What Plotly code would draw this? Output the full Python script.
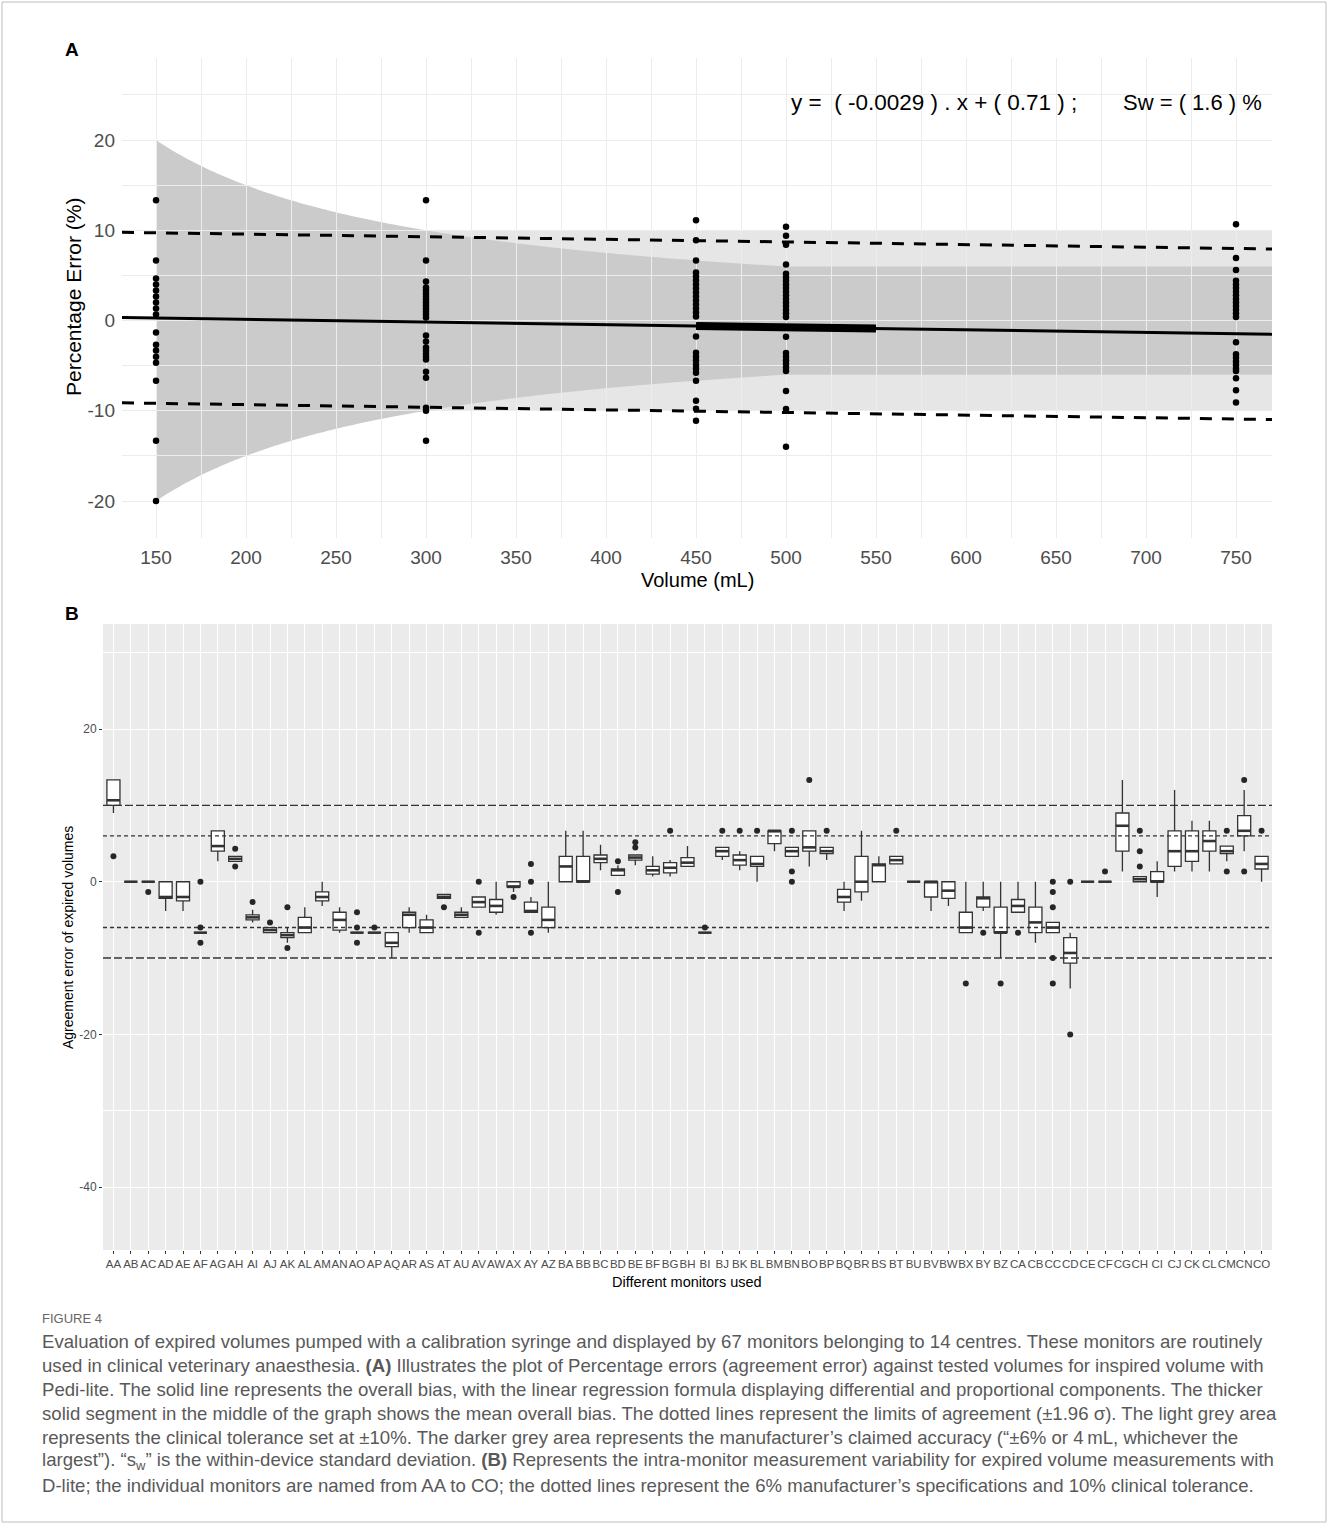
import numpy as np
import plotly.graph_objects as go

W, H = 1328, 1524

# ---------------- Panel A data ----------------
VOLUMES = [150, 300, 450, 500, 750]
ERR_150 = [13.33, 6.67, 4.67, 4.0, 3.33, 2.67, 2.0, 1.33, 0.67, -1.33, -2.67, -3.33, -4.0, -4.67,
           -6.67, -13.33, -20.0]
ERR_300 = [13.33, 6.67, 4.33, 3.67, 3.33, 3.0, 2.67, 2.33, 2.0, 1.67, 1.33, 1.0, 0.67, 0.33,
           -1.67, -2.33, -3.0, -3.33, -3.67, -4.0, -4.33, -5.67, -6.33, -9.67, -10.0, -13.33]
ERR_450 = [11.11, 8.89, 6.67, 5.33, 4.89, 4.44, 4.0, 3.56, 3.11, 2.67, 2.22, 1.78, 1.33, 0.89, 0.44,
           -1.78, -3.56, -4.0, -4.44, -4.89, -5.33, -5.78, -6.67, -8.89, -9.78, -11.11]
ERR_500 = [10.4, 9.4, 8.4, 6.2, 5.2, 4.8, 4.4, 4.0, 3.6, 3.2, 2.8, 2.4, 2.0, 1.6, 1.2, 0.8, 0.4,
           -1.8, -3.6, -4.0, -4.4, -4.8, -5.2, -5.6, -7.8, -9.8, -14.0]
ERR_750 = [10.67, 6.93, 5.6, 4.4, 4.0, 3.6, 3.2, 2.8, 2.4, 2.0, 1.6, 1.2, 0.8, 0.4,
           -2.4, -3.73, -4.13, -4.53, -4.93, -5.33, -5.6, -6.4, -7.73, -9.07]
ERRORS = [ERR_150, ERR_300, ERR_450, ERR_500, ERR_750]

REG_SLOPE = -0.0029
REG_INTERCEPT = 0.71
LOA_HALF = 9.45          # 1.96 sigma
BIAS_SEGMENT = [450, 550]
TOL_PCT = 10             # clinical tolerance
MFR_PCT = 6              # manufacturer percentage
MFR_ABS = 30             # manufacturer absolute (mL) as drawn
XA_RANGE = [131.1, 770]
YA_RANGE = [-24.1, 29.1]
XA_TICKS = [150, 200, 250, 300, 350, 400, 450, 500, 550, 600, 650, 700, 750]
YA_TICKS = [-20, -10, 0, 10, 20]

# ---------------- Panel B data ----------------
MONITORS = [a + b for a, b in
            [("A", c) for c in "ABCDEFGHIJKLMNOPQRSTUVWXYZ"] +
            [("B", c) for c in "ABCDEFGHIJKLMNOPQRSTUVWXYZ"] +
            [("C", c) for c in "ABCDEFGHIJKLMNO"]]
Q1 = [10.0, 0, 0, -2.17, -2.5, -6.67, 4.0, 2.67, -5.0, -6.67,
      -7.33, -6.67, -2.5, -6.33, -6.67, -6.67, -8.5, -6.0, -6.67, -2.17,
      -4.67, -3.33, -4.0, -0.67, -4.0, -6.0, 0, 0, 2.5, 0.83,
      2.83, 1.0, 1.17, 2.0, -6.67, 3.33, 2.17, 2.0, 5.0, 3.33,
      4.0, 3.67, -2.67, -1.33, 0, 2.33, 0, -2.0, -2.17, -6.67,
      -3.33, -6.67, -4.0, -6.67, -6.67, -10.67, 0, 0, 4.0, 0,
      0, 2.0, 2.67, 4.0, 3.67, 6.0, 1.67]
MED = [10.67, 0, 0, -2.0, -2.0, -6.67, 4.67, 3.0, -4.67, -6.33,
       -7.0, -6.0, -2.0, -5.0, -6.67, -6.67, -8.0, -4.33, -6.0, -2.0,
       -4.33, -2.67, -3.17, -0.67, -3.83, -5.0, 2.0, 0, 3.0, 1.5,
       3.17, 1.5, 1.83, 2.5, -6.67, 4.0, 2.83, 2.33, 6.67, 4.0,
       4.5, 4.0, -2.0, 0, 2.17, 2.83, 0, 0, -1.17, -6.0,
       -2.17, -6.67, -3.17, -5.33, -6.0, -9.33, 0, 0, 7.33, 0.33,
       0, 4.0, 4.0, 5.33, 4.0, 6.67, 2.33]
Q3 = [13.33, 0, 0, 0, 0, -6.67, 6.67, 3.33, -4.33, -6.0,
      -6.67, -4.67, -1.33, -4.0, -6.67, -6.67, -6.67, -4.0, -5.0, -1.67,
      -4.0, -2.0, -2.33, 0, -2.67, -3.33, 3.33, 3.33, 3.5, 1.67,
      3.5, 2.0, 2.5, 3.17, -6.67, 4.5, 3.5, 3.33, 6.67, 4.5,
      6.67, 4.5, -1.0, 3.33, 2.33, 3.33, 0, 0, 0, -4.0,
      -2.0, -3.33, -2.33, -3.33, -5.33, -7.33, 0, 0, 9.0, 0.67,
      1.33, 6.67, 6.67, 6.67, 4.67, 8.67, 3.33]
LO = [9.0, 0, 0, -3.83, -3.83, -6.67, 2.67, 2.67, -5.33, -6.67,
      -8.0, -6.67, -3.17, -6.67, -6.67, -6.67, -10.0, -6.67, -6.67, -2.17,
      -4.67, -3.33, -4.33, -1.33, -4.0, -6.67, 0, 0, 1.5, 0.83,
      2.17, 0.67, 0.67, 2.0, -6.67, 2.83, 1.5, 0, 4.0, 3.33,
      2.0, 2.83, -3.83, -2.5, 0, 2.33, 0, -3.83, -3.17, -6.67,
      -3.83, -10.0, -4.0, -8.0, -6.67, -14.0, 0, 0, 1.33, 0,
      -2.0, 1.33, 1.33, 1.33, 2.67, 4.0, 0]
HI = [13.33, 0, 0, 0, 0, -6.67, 6.67, 3.33, -3.67, -6.0,
      -6.0, -3.33, 0, -3.33, -6.67, -6.67, -6.67, -3.33, -4.33, -1.67,
      -3.33, -2.0, 0, 0, -2.0, 0, 6.67, 6.67, 4.83, 2.17,
      3.5, 3.33, 2.83, 4.67, -6.67, 4.5, 4.0, 3.33, 6.67, 4.5,
      6.67, 4.5, 0, 6.67, 3.33, 3.33, 0, 0, 0, 0,
      0, 0, 0, 0, -5.33, -6.67, 0, 0, 13.33, 0.67,
      2.67, 12.0, 8.0, 8.0, 4.67, 12.0, 3.33]
OUTLIERS = [[3.33], [], [-1.33], [], [], [0, -6.0, -8.0], [], [4.33, 2.0], [-2.67], [-5.33],
            [-3.33, -8.67], [], [], [], [-4.0, -6.0, -8.0], [-6.0], [], [], [], [-3.33],
            [], [0, -6.67], [], [-2.0], [2.33, 0, -6.67], [], [], [], [], [2.67, -1.33],
            [5.17, 4.5], [], [6.67], [], [-6.0], [6.67], [6.67], [6.67], [], [6.67, 1.33, 0],
            [13.33], [6.67], [], [], [], [6.67], [], [], [], [-13.33],
            [-6.67], [-13.33], [-6.67], [], [0, -1.33, -3.33, -10.0, -13.33], [0, -20.0], [], [1.33], [], [6.67, 4.0, 2.0],
            [], [], [], [], [6.67, 1.33], [13.33, 1.33], [6.67]]
TOL_LINES = [10, -10]
SPEC_LINES = [6, -6]
YB_TICKS = [-40, -20, 0, 20]
YB_MINOR = [-30, -10, 10, 30]
YB_RANGE = [-48.24, 33.76]
XB_RANGE = [-0.6, len(MONITORS) - 0.4]

CAPTION_HEAD = "FIGURE 4"
CAPTION_LINES = [
    "Evaluation of expired volumes pumped with a calibration syringe and displayed by 67 monitors belonging to 14 centres. These monitors are routinely",
    "used in clinical veterinary anaesthesia. <b>(A)</b> Illustrates the plot of Percentage errors (agreement error) against tested volumes for inspired volume with",
    "Pedi-lite. The solid line represents the overall bias, with the linear regression formula displaying differential and proportional components. The thicker",
    "solid segment in the middle of the graph shows the mean overall bias. The dotted lines represent the limits of agreement (±1.96 σ). The light grey area",
    "represents the clinical tolerance set at ±10%. The darker grey area represents the manufacturer’s claimed accuracy (“±6% or 4\u202fmL, whichever the",
    "largest”). “s<sub>w</sub>” is the within-device standard deviation. <b>(B)</b> Represents the intra-monitor measurement variability for expired volume measurements with",
    "D-lite; the individual monitors are named from AA to CO; the dotted lines represent the 6% manufacturer’s specifications and 10% clinical tolerance.",
]

FONT = "Liberation Sans, Arial, sans-serif"


def fx(px):
    return px / W


def fy(py):
    return 1 - py / H


fig = go.Figure()

# ---------------- Panel A traces ----------------
xl = np.array(XA_RANGE)
reg = REG_SLOPE * xl + REG_INTERCEPT
for off in (LOA_HALF, -LOA_HALF):
    fig.add_trace(go.Scatter(x=xl, y=reg + off, mode="lines",
                             line=dict(color="black", width=3, dash="12px,10px"),
                             xaxis="x", yaxis="y", hoverinfo="skip"))
fig.add_trace(go.Scatter(x=xl, y=reg, mode="lines", line=dict(color="black", width=3),
                         xaxis="x", yaxis="y", hoverinfo="skip"))
bs = np.array(BIAS_SEGMENT)
fig.add_trace(go.Scatter(x=bs, y=REG_SLOPE * bs + REG_INTERCEPT, mode="lines",
                         line=dict(color="black", width=8), xaxis="x", yaxis="y", hoverinfo="skip"))
px_, py_ = [], []
for v, errs in zip(VOLUMES, ERRORS):
    px_ += [v] * len(errs)
    py_ += errs
fig.add_trace(go.Scatter(x=px_, y=py_, mode="markers",
                         marker=dict(color="black", size=6.5),
                         xaxis="x", yaxis="y"))

# ---------------- Panel B traces ----------------
idx = list(range(len(MONITORS)))
for v in TOL_LINES:
    fig.add_trace(go.Scatter(x=XB_RANGE, y=[v, v], mode="lines",
                             line=dict(color="#333333", width=1.4, dash="8px,3px"),
                             xaxis="x2", yaxis="y2", hoverinfo="skip"))
for v in SPEC_LINES:
    fig.add_trace(go.Scatter(x=XB_RANGE, y=[v, v], mode="lines",
                             line=dict(color="#333333", width=1.4, dash="4px,3px"),
                             xaxis="x2", yaxis="y2", hoverinfo="skip"))
fig.add_trace(go.Box(x=idx, q1=Q1, median=MED, q3=Q3, lowerfence=LO, upperfence=HI,
                     width=0.75, whiskerwidth=0, fillcolor="white",
                     line=dict(color="#333333", width=1.3), boxpoints=False,
                     xaxis="x2", yaxis="y2"))
mx, my = [], []
for i, m in zip(idx, MED):
    mx += [i - 0.375, i + 0.375, None]
    my += [m, m, None]
fig.add_trace(go.Scatter(x=mx, y=my, mode="lines", line=dict(color="#333333", width=2.6),
                         xaxis="x2", yaxis="y2", hoverinfo="skip"))
ox, oy = [], []
for i, outs in zip(idx, OUTLIERS):
    ox += [i] * len(outs)
    oy += outs
fig.add_trace(go.Scatter(x=ox, y=oy, mode="markers", marker=dict(color="#262626", size=6),
                         xaxis="x2", yaxis="y2"))

# ---------------- shapes ----------------
shapes = []
shapes.append(dict(type="rect", xref="x", yref="y", x0=VOLUMES[0], x1=XA_RANGE[1],
                   y0=-TOL_PCT, y1=TOL_PCT, fillcolor="#e6e6e6", line=dict(width=0), layer="below"))
bx = np.arange(VOLUMES[0], XA_RANGE[1] + 0.1, 2.0)
bu = np.maximum(MFR_PCT, MFR_ABS * 100.0 / bx)
path = "M " + " L ".join(f"{a:.2f},{b:.3f}" for a, b in zip(bx, bu))
path += " L " + " L ".join(f"{a:.2f},{-b:.3f}" for a, b in zip(bx[::-1], bu[::-1])) + " Z"
shapes.append(dict(type="path", xref="x", yref="y", path=path, fillcolor="#cbcbcb",
                   line=dict(width=0), layer="below"))
shapes.append(dict(type="rect", xref="x2 domain", yref="y2 domain", x0=0, x1=1, y0=0, y1=1,
                   fillcolor="#ebebeb", line=dict(width=0), layer="below"))
shapes.append(dict(type="rect", xref="paper", yref="paper", x0=fx(2), x1=fx(1326),
                   y0=fy(1522), y1=fy(2), line=dict(color="#bdbdbd", width=1),
                   fillcolor="rgba(0,0,0,0)", layer="below"))

# ---------------- annotations ----------------
ann = []
ann.append(dict(text="<b>A</b>", x=fx(63), y=fy(50), xanchor="left", yanchor="middle",
                font=dict(size=19, color="black", family=FONT)))
ann.append(dict(text="<b>B</b>", x=fx(63), y=fy(613), xanchor="left", yanchor="middle",
                font=dict(size=19, color="black", family=FONT)))
ann.append(dict(text="y =  ( -0.0029 ) . x + ( 0.71 ) ;", x=fx(789), y=fy(103), xanchor="left",
                yanchor="middle", font=dict(size=22.5, color="black", family=FONT)))
ann.append(dict(text="Sw = ( 1.6 ) %", x=fx(1121), y=fy(103), xanchor="left",
                yanchor="middle", font=dict(size=22, color="black", family=FONT)))
ann.append(dict(text="Percentage Error (%)", x=fx(73), y=fy(297), textangle=-90,
                xanchor="center", yanchor="middle", font=dict(size=21, color="black", family=FONT)))
ann.append(dict(text="Volume (mL)", x=fx(697), y=fy(580), xanchor="center", yanchor="middle",
                font=dict(size=20, color="black", family=FONT)))
ann.append(dict(text="Agreement error of expired volumes", x=fx(68), y=fy(938), textangle=-90,
                xanchor="center", yanchor="middle", font=dict(size=14, color="black", family=FONT)))
ann.append(dict(text="Different monitors used", x=fx(687), y=fy(1282), xanchor="center",
                yanchor="middle", font=dict(size=14.5, color="black", family=FONT)))
ann.append(dict(text=CAPTION_HEAD, x=fx(40), y=fy(1318), xanchor="left", yanchor="middle",
                font=dict(size=13, color="#666666", family=FONT)))
for k, line in enumerate(CAPTION_LINES):
    ann.append(dict(text=line, x=fx(40), y=fy(1341 + 24 * k), xanchor="left", yanchor="middle",
                    font=dict(size=18.6, color="#595959", family=FONT)))
for a in ann:
    a.update(xref="paper", yref="paper", showarrow=False)

grid_a = "#ececec"
fig.update_layout(
    width=W, height=H, margin=dict(l=0, r=0, t=0, b=0),
    paper_bgcolor="white", plot_bgcolor="white", showlegend=False,
    font=dict(family=FONT),
    shapes=shapes, annotations=ann,
    xaxis=dict(domain=[fx(122), fx(1272)], range=XA_RANGE, tickmode="array", tickvals=XA_TICKS,
               ticktext=[str(t) for t in XA_TICKS], showgrid=True, gridcolor=grid_a, gridwidth=1.2,
               zeroline=False, showline=False, ticks="", ticklabelstandoff=6,
               tickfont=dict(size=19, color="#4d4d4d"),
               minor=dict(tickmode="array", tickvals=[t + 25 for t in XA_TICKS[:-1]],
                          showgrid=True, gridcolor=grid_a, gridwidth=1.0),
               anchor="y"),
    yaxis=dict(domain=[fy(538), fy(58)], range=YA_RANGE, tickmode="array", tickvals=YA_TICKS,
               ticktext=[str(t) for t in YA_TICKS], showgrid=True, gridcolor=grid_a, gridwidth=1.2,
               zeroline=False, showline=False, ticks="", ticklabelstandoff=6,
               tickfont=dict(size=19, color="#4d4d4d"),
               minor=dict(tickmode="array", tickvals=[t + 5 for t in YA_TICKS],
                          showgrid=True, gridcolor=grid_a, gridwidth=1.0),
               anchor="x"),
    xaxis2=dict(domain=[fx(103), fx(1272)], range=XB_RANGE, tickmode="array", tickvals=idx,
                ticktext=MONITORS, tickangle=0, showgrid=True, gridcolor="white", gridwidth=1.2,
                zeroline=False, showline=False, ticks="outside", ticklen=3, tickcolor="#333333",
                tickfont=dict(size=11.5, color="#4d4d4d", family=FONT),
                anchor="y2"),
    yaxis2=dict(domain=[fy(1250), fy(624)], range=YB_RANGE, tickmode="array", tickvals=YB_TICKS,
                ticktext=[str(t) for t in YB_TICKS], showgrid=True, gridcolor="white", gridwidth=1.2,
                zeroline=False, showline=False, ticks="outside", ticklen=3, tickcolor="#333333",
                tickfont=dict(size=12, color="#4d4d4d"),
                minor=dict(tickmode="array", tickvals=YB_MINOR, showgrid=True, gridcolor="white",
                           gridwidth=0.6, ticks=""),
                anchor="x2"),
)

fig.write_html("out.html", config={"displayModeBar": False},
               post_script="document.body.style.margin='0px';document.body.style.padding='0px';")
